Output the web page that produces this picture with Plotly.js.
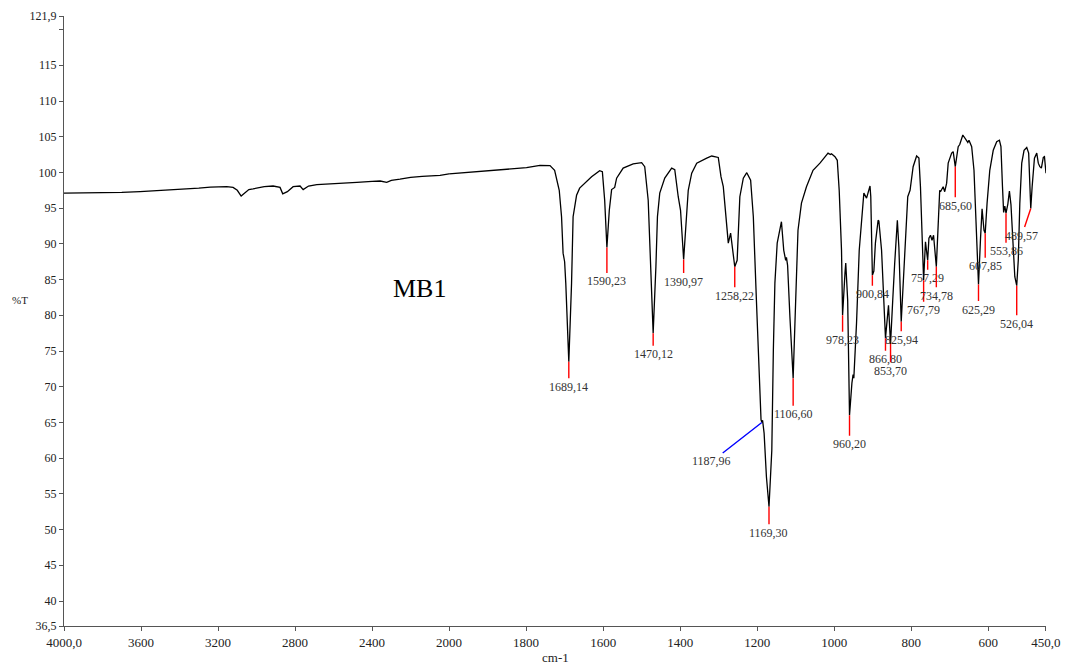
<!DOCTYPE html>
<html>
<head>
<meta charset="utf-8">
<script src="https://cdn.plot.ly/plotly-3.0.1.min.js"></script>
<style>html,body{margin:0;padding:0;background:#fff;}#chart{width:1067px;height:669px;}</style>
</head>
<body>
<div id="chart"></div>
<script>
// ---- data: wavenumber (cm-1) and transmittance (%T) ----
const wavenumber = [
4000,3900,3800,3700,3605,3500,3420,3363,3300,3240,3155,3122,3100,3080,3060,3040,3018,2960,2914,2878,2864,2840,2810,2774,2758,2730,2687,2600,2540,2479,2400,2358,2324,2300,2255,2200,2140,2090,2047,2000,
1938,1900,1851,1799,1764,1738,1726,1714,1708,1704,1700,1697,1689.14,1682,1678,1669,1661,1648,1630,1609,1602,1596,1590.23,1584,1578,1570,1565,1548,1522,1500,1492,1483,1476,1470.12,1463,1459,1453,1440,1422,1414,1405,1399,1390.97,1385,1379,1370,1357,1331,1318,1301,1294,1288,1284,1275,1269,1265,1258.22,1252,1245,1236,1227,1217,1210,1202,1193,1190,1187.96,1186,1182,1176,1169.30,1162,1158,1154,1148,1137,1131,1126,1124,1121,1115,1106.60,1100,1094,1085,1072,1055,1037,1016,1010,1007,998,992,987,981,978.23,972,970,965,963,960.20,954,951,949,942,935,929,923,916,907,905,900.84,897,893,886,884,877,871,866.80,859,857,853.70,848,845,843,836,832,825.94,819,814,809,803,795,786,780,776,770,767.79,763,757.29,754,750,746,742,734.78,730,726,724,717,713,708,704,695,691,685.60,678,674,666,661,653,650,643,637,632,625.29,620,616,611,607.85,603,596,587,578,571,567,563,560,557,553.86,549,545,541,535,531,526.04,522,518,513,507,500,495,492,489.57,486,480,474,470,466,462,457,454,450
];
const transmittance = [
97.1,97.1,97.15,97.2,97.3,97.45,97.6,97.7,97.8,97.95,98.0,97.9,97.5,96.7,97.2,97.6,97.7,98.0,98.1,97.9,97.0,97.3,98.0,98.1,97.6,98.1,98.3,98.4,98.5,98.6,98.75,98.8,98.6,98.9,99.05,99.3,99.45,99.5,99.6,99.8,
100.06,100.2,100.4,100.66,100.99,100.95,100.3,97.5,93.8,88.7,87.5,84.5,73.5,84.5,93.8,96.8,97.8,98.5,99.4,100.25,100.1,96.1,89.5,94.7,97.6,97.9,99.2,100.6,101.2,101.37,100.8,96.1,86.8,77.5,86.8,93.8,97.1,99.2,100.6,100.4,96.6,94.7,87.8,92.9,97.5,99.9,101.3,102.0,102.3,102.1,99.4,98.0,95.7,90.1,91.5,89.9,86.8,87.7,96.6,99.2,99.96,98.9,93.8,82.1,68.1,65.4,65.0,65.3,63.5,57.4,53.2,61.1,75.1,84.5,90.1,93.1,89.1,87.7,88.1,87.0,79.8,71.2,82.1,91.9,95.7,98.0,100.3,101.3,102.7,102.5,102.6,102.2,101.7,97.5,89.1,80.0,85.9,87.3,82.1,72.0,66.0,70.5,71.7,71.2,78.9,89.1,93.8,97.1,96.4,98.1,96.6,85.6,86.2,90.1,93.3,93.2,89.1,81.2,76.8,81.4,78.9,76.0,82.1,87.0,87.2,93.3,89.5,79.1,86.3,93.3,96.6,97.5,100.8,102.3,102.0,98.0,85.9,84.9,90.3,87.7,90.8,91.2,90.5,91.2,86.8,93.3,97.5,97.3,98.0,97.3,98.5,101.3,102.7,102.9,100.8,103.6,103.9,105.24,104.9,104.2,104.5,103.6,100.3,93.3,84.3,90.8,94.9,91.9,91.5,95.7,100.3,103.1,104.3,104.5,103.6,98.0,94.4,95.3,94.3,95.6,97.4,95.5,89.6,85.4,84.15,87.7,95.7,101.3,103.1,103.5,102.7,98.5,94.95,98.0,102.0,102.7,101.3,100.8,100.6,102.1,102.2,99.9
];

// labelled peaks
const peakWn = [1689.14,1590.23,1470.12,1390.97,1258.22,1187.96,1169.30,1106.60,978.23,960.20,900.84,866.80,853.70,825.94,767.79,757.29,734.78,685.60,625.29,607.85,553.86,526.04,489.57];
const peakT  = [73.5,89.5,77.5,87.8,86.8,65.0,53.2,71.2,80.0,66.0,85.6,76.8,76.0,79.1,84.9,87.7,86.8,100.8,84.3,91.5,94.3,84.15,94.95];

// axis ticks
const xTicksHigh = [4000,3600,3200,2800,2400,2000];
const xTickTextHigh = ['4000,0','3600','3200','2800','2400','2000'];
const xTicksLow = [1800,1600,1400,1200,1000,800,600,450];
const xTickTextLow = ['1800','1600','1400','1200','1000','800','600','450,0'];
const yTicks = [36.5,40,45,50,55,60,65,70,75,80,85,90,95,100,105,110,115,120,121.9];
const yTickText = ['36,5','40','45','50','55','60','65','70','75','80','85','90','95','100','105','110','115','','121,9'];

// ---- layout / style (positions of labels in pixels relative to the peak) ----
const labelOffsets = [[0,25],[0,34],[0,21],[0,22],[0,29],[-50,39],[0,26],[0,36],[0,25],[0,29],[0,19],[0,21],[0,27],[0,18],[0,30],[0,18],[0,29],[0,39],[0,25],[0,33],[0,38],[0,38],[-9,27]];

const serif = 'Liberation Serif';
const hx=[],hy=[],lx=[],ly=[];
for (let i=0;i<wavenumber.length;i++){
  if (wavenumber[i] >= 2000){hx.push(wavenumber[i]);hy.push(transmittance[i]);}
  if (wavenumber[i] <= 2000){lx.push(wavenumber[i]);ly.push(transmittance[i]);}
}
const lineStyle = {color:'#000', width:1.3};
const traces = [
  {x:hx, y:hy, xaxis:'x', yaxis:'y', mode:'lines', line:lineStyle, hoverinfo:'skip'},
  {x:lx, y:ly, xaxis:'x2', yaxis:'y', mode:'lines', line:lineStyle, hoverinfo:'skip'}
];

const split = 2000/(2000+1550*2);
const axCommon = {
  showline:true, linecolor:'#555', linewidth:1, ticks:'outside', ticklen:4, tickcolor:'#555',
  showgrid:false, zeroline:false, tickfont:{family:serif,size:13,color:'#222'}, tickmode:'array', anchor:'y'
};
const annotations = peakWn.map((w,i)=>({
  x:w, y:peakT[i], xref:'x2', yref:'y',
  text:w.toFixed(2).replace('.',','),
  showarrow:true, arrowhead:0, arrowwidth:1.4, standoff:0,
  arrowcolor: i===5 ? '#0000ff' : '#ff0000',
  ax:labelOffsets[i][0], ay:labelOffsets[i][1],
  font:{family:serif,size:12,color:'#333'}, borderpad:1
}));
annotations.push({xref:'paper',yref:'paper',x:-0.045,y:0.534,xanchor:'center',yanchor:'middle',text:'%T',showarrow:false,font:{family:serif,size:11,color:'#222'}});
annotations.push({xref:'paper',yref:'paper',x:0.5,y:-0.051,xanchor:'center',yanchor:'middle',text:'cm-1',showarrow:false,font:{family:serif,size:13,color:'#222'}});
annotations.push({xref:'paper',yref:'paper',x:0.3625,y:0.5525,xanchor:'center',yanchor:'middle',text:'MB1',showarrow:false,font:{family:serif,size:26,color:'#000'}});

const layout = {
  width:1067, height:669,
  margin:{l:64,r:21,t:16,b:43},
  paper_bgcolor:'#fff', plot_bgcolor:'#fff',
  showlegend:false,
  font:{family:serif},
  xaxis:Object.assign({}, axCommon, {domain:[0,split], range:[4000,2000], tickvals:xTicksHigh, ticktext:xTickTextHigh}),
  xaxis2:Object.assign({}, axCommon, {domain:[split,1], range:[2000,450], tickvals:xTicksLow, ticktext:xTickTextLow}),
  yaxis:Object.assign({}, axCommon, {range:[36.5,121.9], tickvals:yTicks, ticktext:yTickText, anchor:'x', tickfont:{family:serif,size:12,color:'#222'}}),
  annotations:annotations
};
Plotly.newPlot('chart', traces, layout, {displayModeBar:false, staticPlot:true});
</script>
</body>
</html>
